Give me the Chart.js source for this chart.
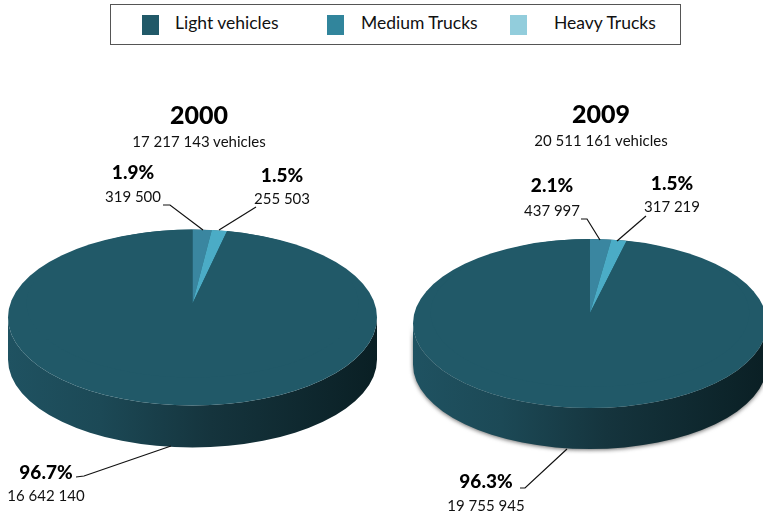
<!DOCTYPE html>
<html>
<head>
<meta charset="utf-8">
<script src="https://cdn.jsdelivr.net/npm/chart.js@4"></script>
<style>
  html, body { margin: 0; padding: 0; background: #fff; }
  body { position: relative; width: 763px; height: 516px; overflow: hidden; font-family: Lato, sans-serif; color: #111; }
  canvas { position: absolute; top: 0; }
  #legend { position: absolute; left: 110px; top: 4px; width: 569px; height: 39px; border: 1px solid #555; }
  #legend span { position: absolute; font-size: 17.5px; line-height: 20px; top: 8px; white-space: nowrap; }
  #legend i { position: absolute; top: 10px; width: 17px; height: 20px; }
  .lbl { position: absolute; white-space: nowrap; text-align: center; transform: translateX(-50%); }
  .year { font-size: 25px; font-weight: 900; line-height: 28px; color: #000; }
  .sub { font-size: 15px; line-height: 18px; }
  .pct { font-size: 19px; font-weight: 900; line-height: 22px; color: #000; }
</style>
</head>
<body>
<div id="legend"></div>
<canvas id="pie2000" width="400" height="516" style="left:0"></canvas>
<canvas id="pie2009" width="380" height="516" style="left:400px"></canvas>
<div id="labels"></div>
<script>
// slice order follows the picture: medium first from 12 o'clock, then heavy, then light
const categories = ['Medium Trucks', 'Heavy Trucks', 'Light vehicles'];
const values2000 = [319500, 255503, 16642140];
const values2009 = [437997, 317219, 19755945];
const pct2000 = ['1.9%', '1.5%', '96.7%'];
const pct2009 = ['2.1%', '1.5%', '96.3%'];
const counts2000 = ['319 500', '255 503', '16 642 140'];
const counts2009 = ['437 997', '317 219', '19 755 945'];
const sliceColors = ['#3a86a0', '#4bacc6', '#215968'];

// legend
const legendItems = [
  { name: 'Light vehicles', color: '#215968', box: 31, text: 64 },
  { name: 'Medium Trucks', color: '#31859c', box: 216, text: 250 },
  { name: 'Heavy Trucks', color: '#92cddc', box: 399, text: 443 }
];
const legendEl = document.getElementById('legend');
legendItems.forEach(function (it) {
  legendEl.insertAdjacentHTML('beforeend',
    '<i style="left:' + it.box + 'px;background:' + it.color + '"></i><span style="left:' + it.text + 'px">' + it.name + '</span>');
});

// squashes the pie and draws the rim under it
const pie3d = {
  id: 'pie3d',
  beforeDatasetsDraw(chart, args, o) {
    const ctx = chart.ctx;
    const arc = chart.getDatasetMeta(0).data[0];
    const cx = arc.x, rx = arc.outerRadius;
    const top = arc.y - o.apexRy;
    const ey = top + o.ry; // centre of the top face
    const grad = ctx.createLinearGradient(cx - rx, 0, cx + rx, 0);
    grad.addColorStop(0, '#1f5261');
    grad.addColorStop(0.25, '#1c4956');
    grad.addColorStop(0.55, '#15343d');
    grad.addColorStop(1, '#0a1f24');
    ctx.save();
    if (o.shadow) {
      ctx.shadowColor = 'rgba(60,60,60,0.75)';
      ctx.shadowBlur = 4;
      ctx.shadowOffsetY = 1;
    }
    ctx.fillStyle = grad;
    ctx.beginPath();
    ctx.ellipse(cx, ey + o.depth, rx, o.ry, 0, 0, Math.PI);
    ctx.ellipse(cx, ey, rx, o.ry, 0, Math.PI, 0, true);
    ctx.closePath();
    ctx.fill();
    ctx.restore();
    ctx.fillStyle = sliceColors[2];
    ctx.beginPath();
    ctx.ellipse(cx, ey, rx, o.ry, 0, 0, Math.PI * 2);
    ctx.fill();
    ctx.save();
    // perspective look: wedges meet above the face centre and lean less
    ctx.translate(cx, arc.y);
    ctx.scale(0.9, o.apexRy / rx);
    ctx.translate(-cx, -arc.y);
  },
  afterDatasetsDraw(chart) {
    chart.ctx.restore();
  },
  afterDraw(chart, args, o) {
    const ctx = chart.ctx;
    ctx.strokeStyle = '#111';
    ctx.lineWidth = 1.2;
    o.leaders.forEach(function (pts) {
      ctx.beginPath();
      pts.forEach(function (p, i) { i ? ctx.lineTo(p[0], p[1]) : ctx.moveTo(p[0], p[1]); });
      ctx.stroke();
    });
  }
};

function makePie(id, values, padding, opts) {
  return new Chart(document.getElementById(id), {
    type: 'pie',
    data: {
      labels: categories,
      datasets: [{ data: values, backgroundColor: sliceColors, borderWidth: 0, hoverOffset: 0 }]
    },
    options: {
      responsive: false,
      animation: false,
      layout: { padding: padding },
      plugins: { legend: { display: false }, tooltip: { enabled: false }, pie3d: opts }
    },
    plugins: [pie3d]
  });
}

makePie('pie2000', values2000, { left: 8, right: 23, top: 119, bottom: 28 }, {
  apexRy: 74, ry: 88, depth: 42, shadow: false,
  leaders: [
    [[163, 205], [170, 205], [203, 230]],
    [[256, 207], [219, 230]],
    [[76, 477], [84, 476], [171, 446]]
  ]
});
makePie('pie2009', values2009, { left: 13, right: 13, top: 136, bottom: 26 }, {
  apexRy: 74, ry: 84.5, depth: 41, shadow: true,
  leaders: [
    [[181, 219], [187, 219], [200, 240]],
    [[246, 216], [217, 241]],
    [[120, 488], [125, 488], [167, 449]]
  ]
});

// text
const textItems = [
  ['year', '2000', 199, 100],
  ['sub', '17 217 143 vehicles', 199, 132],
  ['pct', pct2000[0], 133, 161],
  ['sub', counts2000[0], 133, 187],
  ['pct', pct2000[1], 282, 164],
  ['sub', counts2000[1], 282, 189],
  ['pct', pct2000[2], 46, 461],
  ['sub', counts2000[2], 46, 486],
  ['year', '2009', 601, 99],
  ['sub', '20 511 161 vehicles', 601, 131],
  ['pct', pct2009[0], 552, 174],
  ['sub', counts2009[0], 552, 201],
  ['pct', pct2009[1], 672, 172],
  ['sub', counts2009[1], 672, 197],
  ['pct', pct2009[2], 486, 470],
  ['sub', counts2009[2], 486, 496]
];
const labelsEl = document.getElementById('labels');
textItems.forEach(function (t) {
  labelsEl.insertAdjacentHTML('beforeend',
    '<div class="lbl ' + t[0] + '" style="left:' + t[2] + 'px;top:' + t[3] + 'px">' + t[1] + '</div>');
});
</script>
</body>
</html>
